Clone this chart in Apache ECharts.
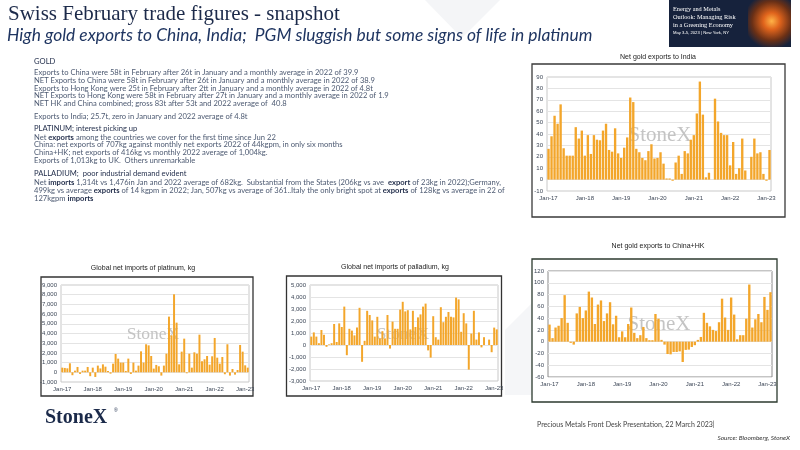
<!DOCTYPE html>
<html><head><meta charset="utf-8">
<script src="https://cdn.jsdelivr.net/npm/echarts@6/dist/echarts.min.js"></script>
<style>html,body{margin:0;padding:0;background:#fff}#c{width:800px;height:450px}</style>
</head><body><div id="c"></div>
<script>
// ---------- data ----------
const monthNames = ['Jan','Feb','Mar','Apr','May','Jun','Jul','Aug','Sep','Oct','Nov','Dec'];
const years = ['17','18','19','20','21','22','23'];
const categories = [];
years.forEach(y => monthNames.forEach(m => categories.push(m + '-' + y)));
categories.length = 74; // Jan-17 .. Feb-23

const indiaNetGold = [27,38,56,49,66,27.5,21,21,21,46,36,43,
  21,39,22.5,39,35,34.5,43,49,26,24.5,45,23,
  19,28,37,72,68,27,24,19,17,25,31,18.5,
  19,24,14,1,1,-1,15,21,5,25,23,35,
  39,58,86,57,2,6,0,71,51,41,39,39,
  12.5,33,5,10,36,8,0,20,36,23,24,5,
  -1,26];
const chinaHkNetGold = [29,6,24,27,40,79,32,-2,-5,48,59,40,
  53,85,75,30,63,70,35,48,67,29.5,44,7.5,
  17.5,7.5,30,58,15,6,11,25,6,2.5,2.5,47,
  39,3,-5,-21,-21.5,-17.5,-17.5,-16.5,-34.5,-14,-13.5,-9,
  -6,3,8,49,32,26,20,18,33,73,41,20,
  75,46,4,11,11,39,97,24,38,47,33,76,
  54,84];
const platinumNetImports = [480,450,410,930,-300,170,550,-170,170,170,550,-400,
  480,-480,690,400,820,580,140,-140,890,1890,1410,1000,
  1000,140,1410,-170,1000,170,690,2160,1000,2890,2780,1680,
  380,760,620,-340,690,1920,5740,3810,8040,5120,820,2130,
  3470,-100,1920,480,2060,1920,3880,1130,1340,1680,790,1650,
  3540,1510,890,1580,-200,2890,-340,340,-240,240,2820,2130,
  720,480];
const palladiumNetImports = [700,1050,700,150,1250,850,-150,50,150,1750,250,1800,
  1500,3200,-850,1350,1200,800,1450,3100,-1400,350,2850,2500,
  2050,700,2350,550,1150,550,2500,-300,1950,1350,1350,2950,
  3600,2800,2900,1300,2850,1500,2300,2550,3200,3450,-450,-1050,
  2400,650,450,3150,1900,2350,2750,2350,2300,3950,3800,1100,
  2650,1800,-2050,950,2850,450,1050,-200,650,0,450,-600,
  1450,1300];

const chartTitles = ['Net gold exports to India','Net gold exports to China+HK',
  'Global net imports of platinum, kg','Global net imports of palladium, kg'];

// ---------- layout ----------
const AX = '#3d4757';
const BAR = '#f3a62b';
const grids = [
  {left:547, top:77, width:224, height:114, borderColor:'#c8c8c8'},
  {left:548, top:271, width:224, height:106, borderColor:'#8a8a8a'},
  {left:61, top:285, width:188, height:97, borderColor:'#c8c8c8'},
  {left:310, top:285, width:188, height:96, borderColor:'#c8c8c8'}
].map(g => Object.assign({show:true, borderWidth:1, backgroundColor:'rgba(0,0,0,0)'}, g));

const yCfg = [
  {min:-10, max:90, interval:10},
  {min:-60, max:120, interval:20},
  {min:-1000, max:9000, interval:1000},
  {min:-3000, max:5000, interval:1000}
];
const seriesData = [indiaNetGold, chinaHkNetGold, platinumNetImports, palladiumNetImports];

const xAxis = grids.map((g,i) => ({
  type:'category', gridIndex:i, data:categories, boundaryGap:true,
  axisLine:{show:false}, axisTick:{show:false},
  axisLabel:{interval:11, fontSize:6, color:AX, margin:4, fontFamily:'Liberation Sans'}
}));
const yAxis = yCfg.map((c,i) => ({
  type:'value', gridIndex:i, min:c.min, max:c.max, interval:c.interval,
  axisLine:{show:false}, axisTick:{show:false},
  splitLine:{lineStyle:{color:'#e4e4e4', width:1}},
  axisLabel:{fontSize:6, color:AX, margin:4, fontFamily:'Liberation Sans',
    formatter: v => v.toLocaleString('en-US')}
}));
const series = seriesData.map((d,i) => ({
  type:'bar', xAxisIndex:i, yAxisIndex:i, data:d, barCategoryGap:'22%',
  itemStyle:{color:BAR}, emphasis:{disabled:true}, animation:false, z:3
}));

function txt(x,y,text,o){
  o = o || {};
  const st = Object.assign({text:text, x:x, y:y, fill:'#333',
    font:'7px Lato', textAlign:'left', textVerticalAlign:'middle',
    align:'left', verticalAlign:'middle'}, o);
  if (o.textAlign) st.align = o.textAlign;
  return {type:'text', z:o.z||5, silent:true, style:st};
}

const graphic = [];
// faint background shapes
graphic.push({type:'polygon', z:-5, silent:true, shape:{points:[[425,0],[500,0],[462,38]]}, style:{fill:'#f4f5f7'}});
graphic.push({type:'polygon', z:-5, silent:true, shape:{points:[[505,330],[535,300],[535,395],[505,395]]}, style:{fill:'#f5f6f8'}});
// boxes
[[532,64,253,153,'#3a3a3a'],[532,259,245,143,'#2c3a2f'],[41,277,212,119,'#333'],[286.5,276,215,120,'#333']].forEach(b=>{
  graphic.push({type:'rect', z:-1, silent:true, shape:{x:b[0],y:b[1],width:b[2],height:b[3]},
    style:{fill:'#fff', stroke:b[4], lineWidth:1.3}});
});
// chart titles
graphic.push(txt(658,57,chartTitles[0],{textAlign:'center', font:'7px "Liberation Sans"', fill:'#222'}));
graphic.push(txt(658,246,chartTitles[1],{textAlign:'center', font:'7px "Liberation Sans"', fill:'#222'}));
graphic.push(txt(143,268,chartTitles[2],{textAlign:'center', font:'7px "Liberation Sans"', fill:'#222'}));
graphic.push(txt(395,267,chartTitles[3],{textAlign:'center', font:'7px "Liberation Sans"', fill:'#222'}));
// watermarks
[[660,135,21],[659,324,21],[153,334,17.5],[403,334,17.5]].forEach(w=>{
  graphic.push(txt(w[0],w[1],'StoneX',{textAlign:'center', font:w[2]+'px "Liberation Serif"', fill:'#c4c4c4', z:1}));
});

// header
graphic.push(txt(8,14,'Swiss February trade figures - snapshot',{font:'21px "Liberation Serif"', fill:'#1c2a4a'}));
graphic.push(txt(7,35,'High gold exports to China, India;  PGM sluggish but some signs of life in platinum',{font:'italic 17.4px Lato', fill:'#1f3561'}));
// banner
graphic.push({type:'rect', z:2, silent:true, shape:{x:669,y:0,width:122,height:47}, style:{fill:'#16223c'}});
graphic.push({type:'rect', z:3, silent:true, shape:{x:748,y:0,width:43,height:47},
  style:{fill:{type:'radial', x:0.55, y:0.45, r:0.65, colorStops:[{offset:0,color:'#ffb347'},{offset:0.3,color:'#e0641c'},{offset:0.7,color:'#6a3016'},{offset:1,color:'#16223c'}]}}});
graphic.push(txt(673,9,'Energy and Metals',{font:'6.3px "Liberation Serif"', fill:'#fff'}));
graphic.push(txt(673,17,'Outlook: Managing Risk',{font:'6.3px "Liberation Serif"', fill:'#fff'}));
graphic.push(txt(673,25,'in a Greening Economy',{font:'6.3px "Liberation Serif"', fill:'#fff'}));
graphic.push(txt(673,33,'May 3-5, 2023 | New York, NY',{font:'4.2px "Liberation Sans"', fill:'#fff'}));

// body text
const B = '#1e2a48', T = '#4d5a72';
const FS = 7.6;
const rich = {b:{fontWeight:'bold', fill:B, fontSize:FS, fontFamily:'Lato'}};
const lines = [
  [62,'GOLD',B],
  [72.3,'Exports to China were 58t in February after 26t in January and a monthly average in 2022 of 39.9',T],
  [80.3,'NET Exports to China were 58t in February after 26t in January and a monthly average in 2022 of 38.9',T],
  [88.3,'Exports to Hong Kong were 25t in February after 2tt in January and a monthly average in 2022 of 4.8t',T],
  [96,'NET Exports to Hong Kong were 58t in February after 27t in January and a monthly average in 2022 of 1.9',T],
  [104,'NET HK and China combined; gross 83t after 53t and 2022 average of  40.8',T],
  [116.7,'Exports to India; 25.7t, zero in January and 2022 average of 4.8t',T],
  [129,'PLATINUM; interest picking up',B],
  [137.3,'Net {b|exports} among the countries we cover for the first time since Jun 22',T],
  [145,'China: net exports of 707kg against monthly net exports 2022 of 44kgpm, in only six months',T],
  [152.7,'China+HK; net exports of 416kg vs monthly 2022 average of 1,004kg.',T],
  [160.7,'Exports of 1,013kg to UK.  Others unremarkable',T],
  [174,'PALLADIUM;  poor industrial demand evident',B],
  [182.7,'Net {b|imports} 1,314t vs 1,476in Jan and 2022 average of 682kg.  Substantial from the States (206kg vs ave  {b|export} of 23kg in 2022);Germany,',T],
  [190.7,'499kg vs average {b|exports} of 14 kgpm in 2022; Jan, 507kg vs average of 361..Italy the only bright spot at {b|exports} of 128kg vs average in 22 of',T],
  [198.3,'127kgpm {b|imports}',T]
];
lines.forEach(l => {
  const t = txt(34,l[0],l[1],{fill:l[2], font:FS+'px Lato'});
  t.style.rich = rich;
  graphic.push(t);
});

// footer
graphic.push(txt(45,418,'StoneX',{font:'bold 20px "Liberation Serif"', fill:'#1b2a4a'}));
graphic.push(txt(114,411,'®',{font:'5px "Liberation Sans"', fill:'#1b2a4a'}));
graphic.push(txt(537,425,'Precious Metals Front Desk Presentation, 22 March 2023|',{font:'7px Lato', fill:'#444'}));
graphic.push(txt(790,438,'Source: Bloomberg, StoneX',{font:'italic 6.5px Lato', fill:'#333', textAlign:'right'}));

const chart = echarts.init(document.getElementById('c'), null, {renderer:'canvas'});
chart.setOption({
  animation:false, backgroundColor:'#ffffff',
  grid:grids, xAxis:xAxis, yAxis:yAxis, series:series, graphic:graphic
});
</script></body></html>
